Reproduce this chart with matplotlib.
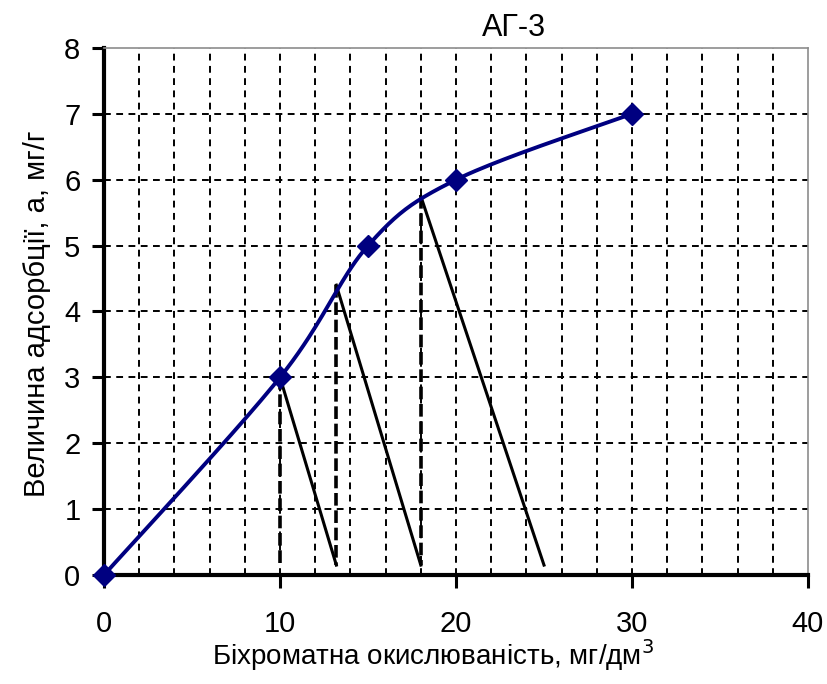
import numpy as np
import matplotlib
matplotlib.use("Agg")
import matplotlib.pyplot as plt

# Isotherm data: dichromate oxidizability vs adsorption value
conc = [0, 10, 15, 20, 30]
adsorption = [0, 3, 5, 6, 7]

# Graphical construction: points on the isotherm and where each segment lands
constr_x = [10, 13.2, 18]
constr_y = [3, 4.4, 5.75]
constr_end_x = [13.2, 18, 25]
constr_base_y = 0.15

x_ticks = [0, 10, 20, 30, 40]
y_ticks = [0, 1, 2, 3, 4, 5, 6, 7, 8]

plt.rcParams["font.family"] = ["Liberation Sans", "DejaVu Sans"]


def smooth(xs, ys, n=40):
    """Smoothed curve through points using cubic Bezier segments (Catmull-Rom style)."""
    p = np.column_stack([xs, ys]).astype(float)
    out = []
    for i in range(len(p) - 1):
        p0 = p[i - 1] if i > 0 else p[i]
        p1, p2 = p[i], p[i + 1]
        p3 = p[i + 2] if i + 2 < len(p) else p[i + 1]
        c1 = p1 + (p2 - p0) / 6.0
        c2 = p2 - (p3 - p1) / 6.0
        t = np.linspace(0, 1, n)[:, None]
        seg = ((1 - t) ** 3) * p1 + 3 * ((1 - t) ** 2) * t * c1 + 3 * (1 - t) * t ** 2 * c2 + t ** 3 * p2
        out.append(seg if i == 0 else seg[1:])
    s = np.vstack(out)
    return s[:, 0], s[:, 1]


fig = plt.figure(figsize=(8.27, 6.84), dpi=100)
ax = fig.add_axes([0.1258, 0.1594, 0.8512, 0.7704])

ax.set_xlim(0, 40)
ax.set_ylim(0, 8)

# grid
for gx in np.arange(2, 40, 2):
    ax.axvline(gx, color="black", lw=1.4, ls=(0, (3.5, 2.8)), zorder=1)
for gy in range(1, 8):
    ax.axhline(gy, color="black", lw=1.4, ls=(0, (3.5, 2.8)), zorder=1)

# construction lines
for x0, y0, x1 in zip(constr_x, constr_y, constr_end_x):
    ax.plot([x0, x0], [y0, constr_base_y], color="black", lw=2.6, ls=(0, (3.5, 1.3)), zorder=2)
    ax.plot([x0, x1], [y0, constr_base_y], color="black", lw=2.2, zorder=2)

sx, sy = smooth(conc, adsorption)
ax.plot(sx, sy, color="#000080", lw=2.8, zorder=3, clip_on=False)
ax.plot(conc, adsorption, ls="none", marker="D", ms=11, color="#000080", zorder=4, clip_on=False)

ax.set_xticks(x_ticks)
ax.set_yticks(y_ticks)
ax.tick_params(axis="both", direction="out", length=9, width=2.2, labelsize=21, color="black")
ax.tick_params(axis="x", pad=16)
ax.tick_params(axis="y", pad=8)
ax.spines["left"].set_linewidth(3)
ax.spines["bottom"].set_linewidth(3)
for s in ("top", "right"):
    ax.spines[s].set_color("#8c8c8c")
    ax.spines[s].set_linewidth(1.2)

fig.text(0.622, 0.959, "АГ-3", ha="center", va="center", fontsize=22)
fig.text(0.524, 0.028, "Біхроматна окислюваність, мг/дм$^3$", ha="center", va="baseline", fontsize=20)
fig.text(0.045, 0.541, "Величина адсорбції, а, мг/г", ha="center", va="center", rotation=90, fontsize=21)

fig.savefig("out.png", dpi=100, facecolor="white")
